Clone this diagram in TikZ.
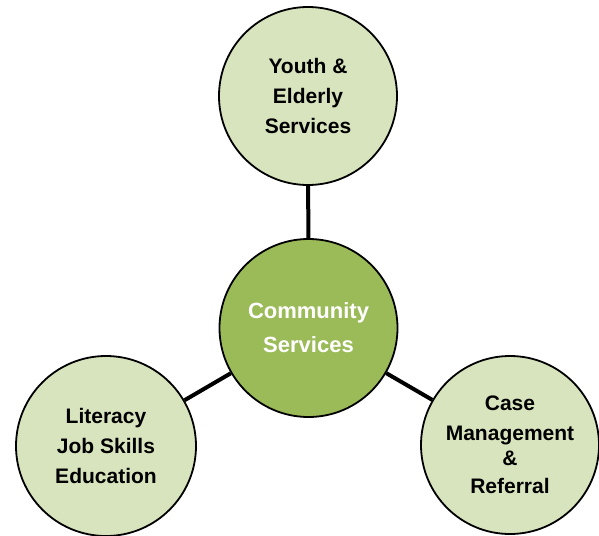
\documentclass[tikz,border=0pt]{standalone}
\usepackage{fontspec}
\setmainfont{Liberation Sans}
\definecolor{lightolive}{HTML}{D7E4BD}
\definecolor{olive}{HTML}{9BBB59}
\begin{document}
\begin{tikzpicture}[x=1pt,y=-1pt,
  outer/.style={circle,draw=black,line width=1.8pt,fill=lightolive,minimum size=178pt,inner sep=0pt,align=center,
    font=\fontsize{21}{30}\selectfont\bfseries},
  hub/.style={circle,draw=black,line width=1.8pt,fill=olive,minimum size=178pt,inner sep=0pt,align=center,
    text=white,font=\fontsize{22}{34}\selectfont\bfseries},
  link/.style={line width=4pt,draw=black}]
\useasboundingbox (0,0) rectangle (599,535);
\node[hub] (c) at (308.5,328) {Community\\Services};
\node[outer] (t) at (308,96) {Youth \&\\Elderly\\Services};
\node[outer,minimum size=180pt] (l) at (106,446) {Literacy\\Job Skills\\Education};
\node[outer] (r) at (510,445) {Case\\Management\\[-5pt]\&\\[-2pt]Referral};
\draw[link] (t) -- (c);
\draw[link] (l) -- (c);
\draw[link] (r) -- (c);
\end{tikzpicture}
\end{document}
